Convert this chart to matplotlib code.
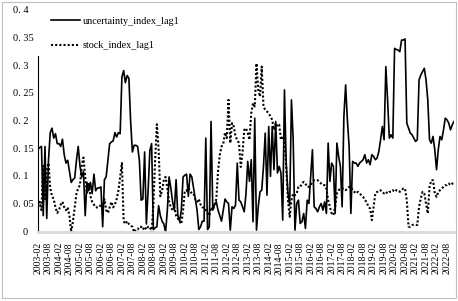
import matplotlib
matplotlib.use("Agg")
import matplotlib.pyplot as plt
from matplotlib.patches import Rectangle
import numpy as np
import pandas as pd

# monthly series, 2003-02 onwards
uncertainty = [
    0.150, 0.153, 0.155, 0.030, 0.155, 0.025, 0.130, 0.180, 0.188, 0.170,
    0.178, 0.160, 0.160, 0.155, 0.168, 0.140, 0.125, 0.130, 0.110, 0.090,
    0.095, 0.098, 0.130, 0.155, 0.120, 0.100, 0.110, 0.030, 0.090, 0.075,
    0.090, 0.070, 0.105, 0.075, 0.080, 0.080, 0.082, 0.010, 0.095, 0.100,
    0.130, 0.160, 0.163, 0.165, 0.180, 0.172, 0.180, 0.178, 0.280, 0.292,
    0.270, 0.283, 0.278, 0.200, 0.145, 0.157, 0.157, 0.155, 0.130, 0.058,
    0.060, 0.145, 0.015, 0.075, 0.148, 0.160, 0.005, 0.008, 0.010, 0.048,
    0.030, 0.020, 0.015, 0.000, 0.040, 0.100, 0.080, 0.055, 0.040, 0.095,
    0.030, 0.020, 0.040, 0.100, 0.103, 0.105, 0.065, 0.105, 0.100, 0.080,
    0.060, 0.040, 0.005, 0.010, 0.020, 0.020, 0.170, 0.005, 0.010, 0.200,
    0.040, 0.050, 0.055, 0.040, 0.030, 0.020, 0.040, 0.060, 0.055,
    0.052, 0.004, 0.046, 0.043, 0.049, 0.125, 0.058, 0.055, 0.046, 0.037,
    0.070, 0.128, 0.092, 0.131, 0.019, 0.206, 0.004, 0.046, 0.073, 0.076,
    0.119, 0.179, 0.067, 0.191, 0.101, 0.191, 0.113, 0.200, 0.107, 0.119,
    0.107, 0.022, 0.257, 0.125, 0.070, 0.049, 0.239, 0.167, 0.004, 0.052,
    0.058, 0.016, 0.019, 0.034, 0.007, 0.058, 0.052, 0.101, 0.149, 0.046,
    0.043, 0.037, 0.046, 0.052, 0.040, 0.055, 0.034, 0.161, 0.092, 0.125,
    0.119, 0.034, 0.161, 0.137, 0.119, 0.046, 0.209, 0.266, 0.203, 0.155,
    0.034, 0.128, 0.125, 0.125, 0.119, 0.125, 0.128, 0.131, 0.140, 0.125,
    0.131, 0.122, 0.140, 0.137, 0.131, 0.134, 0.146, 0.167, 0.191, 0.167,
    0.299, 0.239, 0.170, 0.176, 0.170, 0.332, 0.330, 0.329, 0.326, 0.347,
    0.347, 0.349, 0.197, 0.188, 0.179, 0.176, 0.170, 0.164, 0.167, 0.275,
    0.284, 0.290, 0.296, 0.275, 0.239, 0.167, 0.161, 0.173, 0.149, 0.113,
    0.149, 0.173, 0.167, 0.185, 0.206, 0.203, 0.197, 0.185, 0.194, 0.200,
]

stock = [
    0.045, 0.055, 0.040, 0.120, 0.060, 0.110, 0.125, 0.080, 0.065, 0.060,
    0.045, 0.035, 0.040, 0.050, 0.055, 0.045, 0.040, 0.045, 0.030, 0.000,
    0.020, 0.045, 0.070, 0.080, 0.085, 0.120, 0.135, 0.100, 0.070, 0.090,
    0.065, 0.055, 0.050, 0.045, 0.045, 0.045, 0.050, 0.045, 0.060, 0.040,
    0.035, 0.045, 0.055, 0.045, 0.050, 0.060, 0.075, 0.100, 0.125, 0.020,
    0.015, 0.020, 0.015, 0.012, 0.010, 0.000, 0.005, 0.005, 0.010, 0.010,
    0.005, 0.010, 0.005, 0.010, 0.010, 0.000, 0.050, 0.130, 0.195, 0.150,
    0.065, 0.075, 0.095, 0.100, 0.080, 0.055, 0.045, 0.040, 0.045, 0.030,
    0.025, 0.020, 0.015, 0.040, 0.075, 0.075, 0.080, 0.075, 0.070, 0.070,
    0.060, 0.055, 0.060, 0.050, 0.045, 0.045, 0.040, 0.035, 0.030, 0.045,
    0.040, 0.050, 0.060, 0.110, 0.140, 0.155, 0.160, 0.180, 0.170,
    0.239, 0.161, 0.197, 0.191, 0.173, 0.167, 0.161, 0.118, 0.143, 0.185,
    0.188, 0.179, 0.167, 0.215, 0.233, 0.227, 0.305, 0.257, 0.245, 0.299,
    0.227, 0.221, 0.218, 0.215, 0.209, 0.203, 0.185, 0.197, 0.191, 0.194,
    0.167, 0.173, 0.167, 0.118, 0.058, 0.028, 0.058, 0.070, 0.067, 0.070,
    0.082, 0.082, 0.088, 0.091, 0.088, 0.082, 0.082, 0.085, 0.091, 0.094,
    0.094, 0.094, 0.091, 0.088, 0.085, 0.085, 0.079, 0.058, 0.046, 0.034,
    0.031, 0.046, 0.070, 0.076, 0.079, 0.079, 0.079, 0.076, 0.079, 0.082,
    0.082, 0.076, 0.073, 0.070, 0.073, 0.070, 0.067, 0.064, 0.058, 0.055,
    0.046, 0.043, 0.022, 0.046, 0.070, 0.073, 0.073, 0.076, 0.073, 0.070,
    0.073, 0.070, 0.073, 0.073, 0.076, 0.073, 0.076, 0.076, 0.073, 0.076,
    0.079, 0.079, 0.058, 0.010, 0.010, 0.013, 0.014, 0.014, 0.013, 0.046,
    0.061, 0.073, 0.070, 0.052, 0.034, 0.082, 0.094, 0.094, 0.070, 0.064,
    0.073, 0.076, 0.079, 0.082, 0.085, 0.085, 0.088, 0.085, 0.088, 0.088,
]

months = pd.date_range("2003-02-01", periods=len(uncertainty), freq="MS").strftime("%Y-%m")
y_ticks = [0, 0.05, 0.1, 0.15, 0.2, 0.25, 0.3, 0.35, 0.4]
y_labels = ["0", "0. 05", "0. 1", "0. 15", "0. 2", "0. 25", "0. 3", "0. 35", "0. 4"]

plt.rcParams["font.family"] = ["Liberation Serif", "DejaVu Serif"]

fig = plt.figure(figsize=(4.58, 3.01), dpi=100)
ax = fig.add_axes([38 / 458, 1 - 232.3 / 301, 416 / 458, 221.6 / 301])

ax.plot(np.arange(len(uncertainty)), uncertainty, color="black", lw=1.2,
        label="uncertainty_index_lag1")
ax.plot(np.arange(len(stock)), stock, color="black", lw=1.5,
        linestyle=(0, (1, 1)), label="stock_index_lag1")

ax.set_xlim(0, len(uncertainty) - 1)
ax.set_ylim(0, 0.4)

idx = np.arange(0, len(months), 6)
ax.set_xticks(idx)
ax.set_xticklabels([months[i] for i in idx], rotation=90, fontsize=7)
ax.tick_params(axis="x", length=0, pad=7)

# y labels drawn by hand, excel-like placement
ax.set_yticks([])
for v, t in zip(y_ticks, y_labels):
    xpos = -0.036 if t == "0" else -0.060
    ax.text(xpos, v, t, transform=ax.get_yaxis_transform(), ha="left",
            va="center", fontsize=7.5)

for s in ["top", "right"]:
    ax.spines[s].set_visible(False)
ax.spines["left"].set_color("black")
ax.spines["left"].set_linewidth(0.8)
ax.spines["left"].set_bounds(0, 0.318)
ax.spines["bottom"].set_color("#d9d9d9")
ax.spines["bottom"].set_linewidth(2)

ax.legend(loc="upper left", bbox_to_anchor=(51 / 458, 1 - 16.5 / 301),
          bbox_transform=fig.transFigure, frameon=False, fontsize=7.3,
          handlelength=2.9, handletextpad=0.2, labelspacing=1.55,
          borderpad=0, borderaxespad=0)

fig.patches.append(Rectangle((1.5 / 458, 1 - 297.5 / 301), 454.5 / 458, 296 / 301,
                             transform=fig.transFigure, fill=False,
                             edgecolor="#bfbfbf", lw=0.8))

fig.savefig("out.png", dpi=100)
